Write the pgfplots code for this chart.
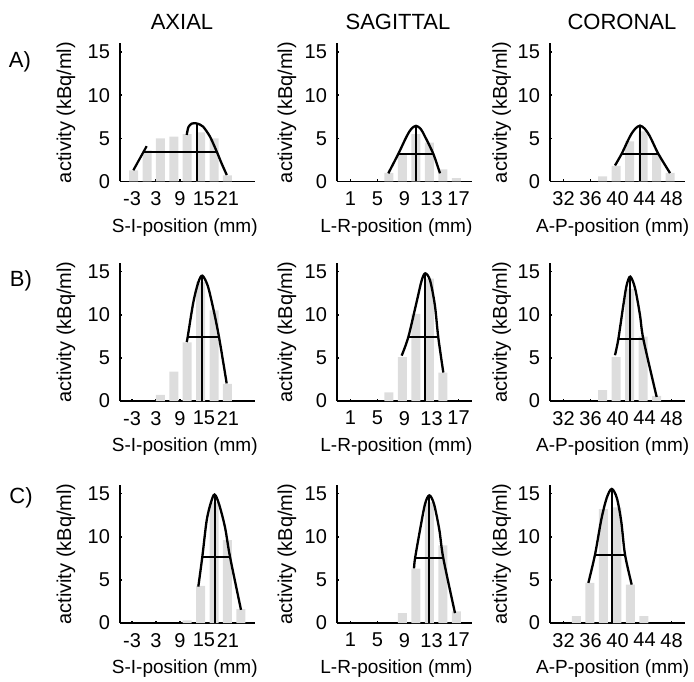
\documentclass[border=0pt]{standalone}
\usepackage{fontspec}
\setmainfont{Liberation Sans}
\usepackage{pgfplots}
\pgfplotsset{compat=1.18}
\definecolor{barfill}{RGB}{221,221,221}
\pgfplotsset{
 panel/.style={
  scale only axis, width=67.5pt, height=69pt,
  axis lines=left, axis line style={-, line width=0.9pt},
  ymin=0, ymax=16, ytick={0,5,10,15}, yticklabels={0,5,10,15},
  tick align=inside, major tick length=1.2pt, tick style={black, line width=0.8pt},
  ticklabel style={font=\fontsize{10}{12}\selectfont},
  xticklabel style={yshift=-1.5pt},
  yticklabel style={xshift=-1.5pt},
  ylabel={activity (kBq/ml)},
  clip=false,
 },
 axial/.style={panel, xmin=-6, xmax=27.75, xtick={-3,3,9,15,21}, xticklabels={-3,3,9,15,21},
  xlabel={S-I-position (mm)},
  xlabel style={at={(axis description cs:0.48,-0.333)}, anchor=center, font=\fontsize{9.5}{11}\selectfont},
  ylabel style={at={(axis description cs:-0.4,0.5)}, anchor=center, font=\fontsize{10}{12}\selectfont}},
 sagittal/.style={panel, xmin=-1, xmax=19, xtick={1,5,9,13,17}, xticklabels={1,5,9,13,17},
  xlabel={L-R-position (mm)},
  xlabel style={at={(axis description cs:0.44,-0.333)}, anchor=center, font=\fontsize{9.5}{11}\selectfont},
  ylabel style={at={(axis description cs:-0.37,0.5)}, anchor=center, font=\fontsize{10}{12}\selectfont}},
 coronal/.style={panel, xmin=30, xmax=50, xtick={32,36,40,44,48}, xticklabels={32,36,40,44,48},
  xlabel={A-P-position (mm)},
  xlabel style={at={(axis description cs:0.465,-0.333)}, anchor=center, font=\fontsize{9.5}{11}\selectfont},
  ylabel style={at={(axis description cs:-0.358,0.5)}, anchor=center, font=\fontsize{10}{12}\selectfont}},
 fit/.style={black, line width=1.15pt, smooth, tension=0.5, mark=none},
 mline/.style={black, line width=0.9pt, mark=none},
}
\begin{document}
\begin{tikzpicture}
\path[use as bounding box] (0pt,0pt) rectangle (347pt,340.5pt);
% titles and row labels
\node[font=\fontsize{11}{13}\selectfont] at (91pt,329.5pt) {AXIAL};
\node[font=\fontsize{11}{13}\selectfont] at (199pt,329.5pt) {SAGITTAL};
\node[font=\fontsize{11}{13}\selectfont] at (311pt,329.5pt) {CORONAL};
\node[font=\fontsize{11}{13}\selectfont] at (10pt,309.5pt) {A)};
\node[font=\fontsize{11}{13}\selectfont] at (10.5pt,200pt) {B)};
\node[font=\fontsize{11}{13}\selectfont] at (10.5pt,91.5pt) {C)};

% ---------------- Row A ----------------
\begin{axis}[axial, at={(60pt,249.75pt)}, anchor=south west]
\addplot[ybar, bar width=2.25, fill=barfill, draw=none] coordinates {(-2.6,1.3) (0.75,3.6) (4.1,5.0) (7.45,5.2) (10.8,5.5) (14.15,5.7) (17.5,5.0) (20.85,0.7)};
\addplot[mline, line width=1.1pt] coordinates {(-2.67,1.3) (0.67,4.1)};
\addplot[fit] coordinates {(10.68,5.4) (11.1,6.3) (11.9,6.7) (12.9,6.75) (14.0,6.6) (14.8,6.35) (16.5,5.2) (18.2,3.45) (19.4,2.1) (20.7,0.75)};
\addplot[mline] coordinates {(13.17,0) (13.17,6.72)};
\addplot[mline] coordinates {(-0.17,3.4) (18.2,3.4)};
\end{axis}
\begin{axis}[sagittal, at={(168.5pt,249.75pt)}, anchor=south west]
\addplot[ybar, bar width=1.33, fill=barfill, draw=none] coordinates {(6.7,1.0) (8.7,3.3) (10.7,5.5) (12.7,4.5) (14.7,1.4) (16.7,0.4)};
\addplot[fit] coordinates {(6.6,0.95) (8.08,3.2) (9.3,5.2) (10.0,6.1) (10.7,6.45) (11.4,6.1) (12.04,5.2) (13.27,3.2) (14.26,0.95)};
\addplot[mline] coordinates {(10.7,0) (10.7,6.45)};
\addplot[mline] coordinates {(8.08,3.2) (13.27,3.2)};
\end{axis}
\begin{axis}[coronal, at={(275pt,249.75pt)}, anchor=south west]
\addplot[ybar, bar width=1.33, fill=barfill, draw=none] coordinates {(37.8,0.6) (39.8,1.8) (41.8,4.65) (43.8,5.8) (45.8,3.1) (47.8,1.0)};
\addplot[fit] coordinates {(39.63,1.86) (40.62,3.22) (41.85,5.23) (42.6,6.1) (43.33,6.48) (44.05,6.1) (44.8,5.23) (46.04,3.22) (47.78,0.98)};
\addplot[mline] coordinates {(43.33,0) (43.33,6.48)};
\addplot[mline] coordinates {(40.62,3.22) (46.04,3.22)};
\end{axis}

% ---------------- Row B ----------------
\begin{axis}[axial, at={(60pt,140pt)}, anchor=south west]
\addplot[ybar, bar width=2.25, fill=barfill, draw=none] coordinates {(4.1,0.7) (7.45,3.4) (10.8,6.8) (14.15,13.8) (17.5,10.5) (20.85,2.0)};
\addplot[fit] coordinates {(10.67,6.84) (10.92,7.42) (12.33,11.45) (13.58,13.76) (14.58,14.53) (15.92,13.38) (17.33,10.69) (18.75,7.42) (20.67,2.04)};
\addplot[mline] coordinates {(14.58,0) (14.58,14.53)};
\addplot[mline] coordinates {(10.92,7.42) (18.75,7.42)};
\end{axis}
\begin{axis}[sagittal, at={(168.5pt,140pt)}, anchor=south west]
\addplot[ybar, bar width=1.33, fill=barfill, draw=none] coordinates {(6.7,1.0) (8.7,5.1) (10.7,10.1) (12.7,14.2) (14.7,3.3)};
\addplot[fit] coordinates {(8.58,5.26) (9.56,7.4) (10.8,11.5) (11.55,14.0) (12.08,14.8) (12.78,14.0) (13.5,11.1) (14.0,7.4) (14.75,3.3)};
\addplot[mline] coordinates {(12.05,0) (12.05,14.8)};
\addplot[mline] coordinates {(9.56,7.4) (14.0,7.4)};
\end{axis}
\begin{axis}[coronal, at={(275pt,140pt)}, anchor=south west]
\addplot[ybar, bar width=1.33, fill=barfill, draw=none] coordinates {(37.8,1.25) (39.8,5.1) (41.8,13.0) (43.8,7.45) (45.8,0.6)};
\addplot[fit] coordinates {(39.63,5.31) (40.12,7.17) (40.86,11.1) (41.36,13.45) (41.9,14.42) (42.6,13.07) (43.33,9.97) (43.83,7.17) (45.8,0.47)};
\addplot[mline] coordinates {(41.9,0) (41.9,14.42)};
\addplot[mline] coordinates {(40.12,7.17) (43.83,7.17)};
\end{axis}

% ---------------- Row C ----------------
\begin{axis}[axial, at={(60pt,29pt)}, anchor=south west]
\addplot[ybar, bar width=2.25, fill=barfill, draw=none] coordinates {(10.8,0.3) (14.15,4.3) (17.5,14.0) (20.85,9.6) (24.2,1.6)};
\addplot[fit] coordinates {(13.58,4.22) (14.58,7.68) (15.67,11.9) (16.75,14.0) (17.65,14.9) (18.75,13.8) (20.25,11.1) (21.5,7.68) (24.25,1.53)};
\addplot[mline] coordinates {(17.65,0) (17.65,14.9)};
\addplot[mline] coordinates {(14.58,7.68) (21.5,7.68)};
\end{axis}
\begin{axis}[sagittal, at={(168.5pt,29pt)}, anchor=south west]
\addplot[ybar, bar width=1.33, fill=barfill, draw=none] coordinates {(8.7,1.15) (10.7,6.3) (12.7,14.0) (14.7,9.0) (16.7,1.35)};
\addplot[fit] coordinates {(10.41,6.34) (10.56,7.5) (11.3,10.8) (12.04,13.8) (12.68,14.8) (13.37,13.8) (14.16,10.8) (14.75,7.5) (16.48,1.15)};
\addplot[mline] coordinates {(12.68,0) (12.68,14.8)};
\addplot[mline] coordinates {(10.56,7.5) (14.75,7.5)};
\end{axis}
\begin{axis}[coronal, at={(275pt,29pt)}, anchor=south west]
\addplot[ybar, bar width=1.33, fill=barfill, draw=none] coordinates {(33.9,0.8) (35.9,4.65) (37.9,13.2) (39.9,13.4) (41.9,4.45) (43.9,0.8)};
\addplot[fit] coordinates {(35.68,4.65) (36.67,7.94) (37.6,12.0) (38.4,14.5) (39.14,15.55) (39.9,14.5) (40.55,11.8) (41.11,7.94) (42.1,4.45)};
\addplot[mline] coordinates {(39.14,0) (39.14,15.55)};
\addplot[mline] coordinates {(36.67,7.9) (41.11,7.9)};
\end{axis}
\end{tikzpicture}
\end{document}
